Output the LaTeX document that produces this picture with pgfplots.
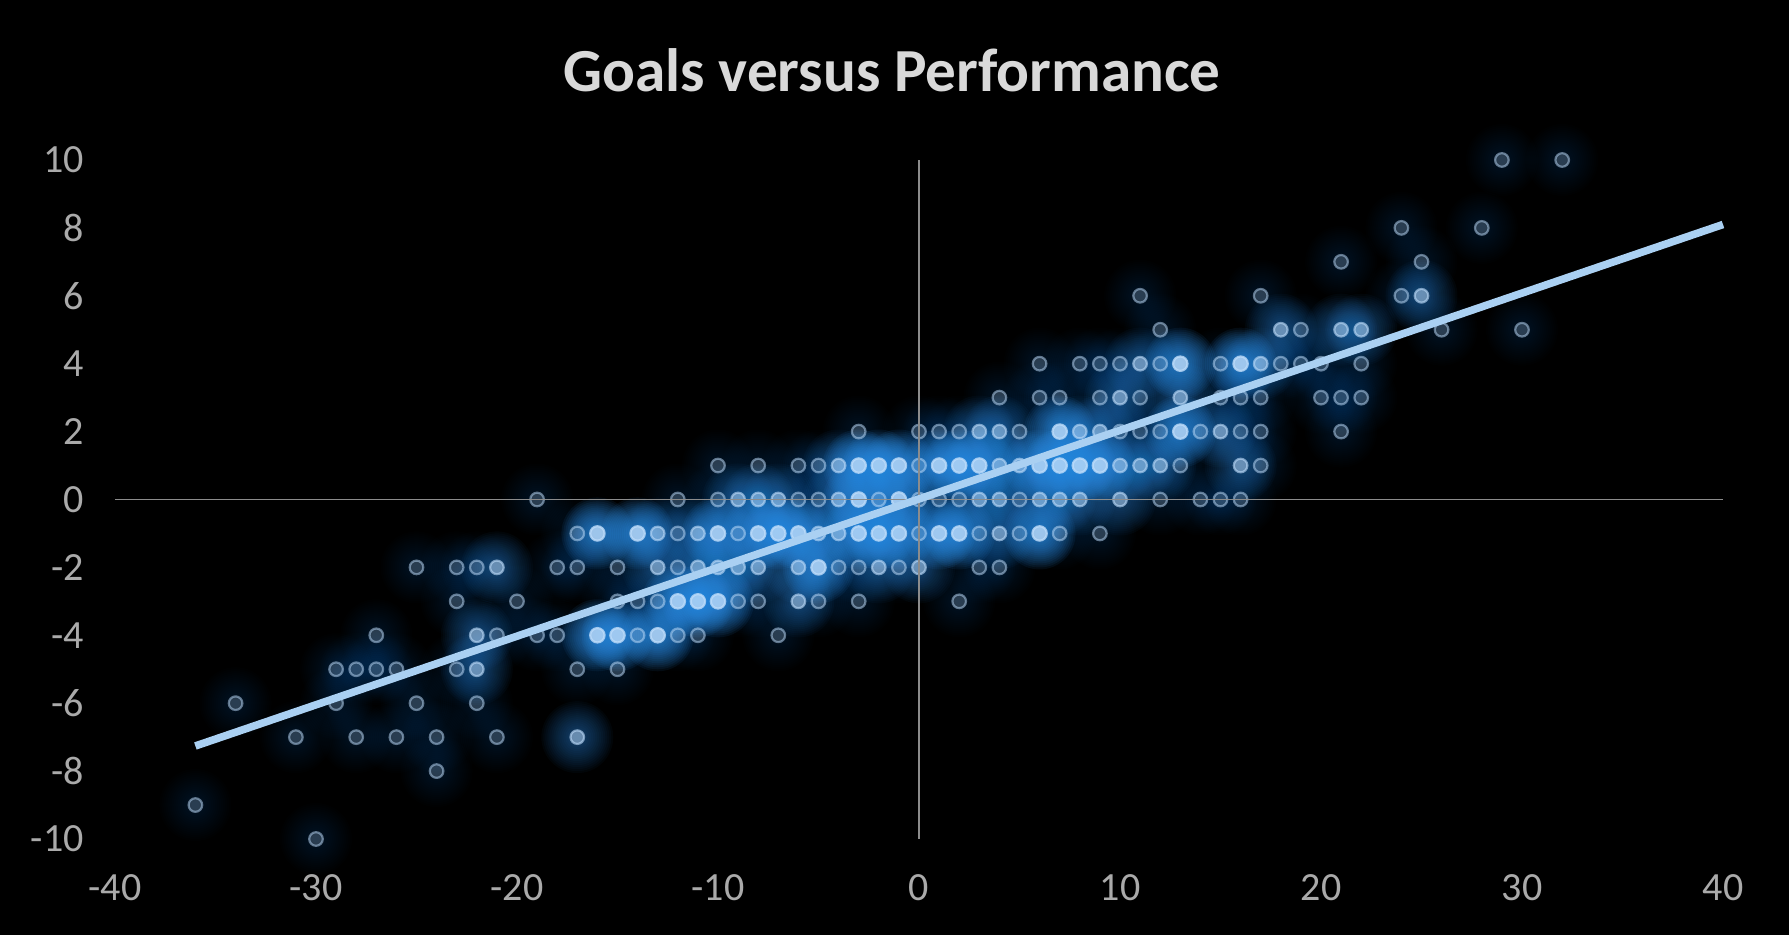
\documentclass[border=0pt]{standalone}
\usepackage{fontspec}
\setmainfont{Carlito}
\usepackage{pgfplots}
\usepackage{pgfplotstable}
\pgfplotsset{compat=1.18}

\definecolor{glowc}{RGB}{45,145,235}
\definecolor{dotc}{RGB}{190,220,250}
\definecolor{trendc}{RGB}{170,208,242}
\definecolor{tickc}{RGB}{170,170,170}
\definecolor{titlec}{RGB}{217,217,217}
\definecolor{zeroc}{RGB}{140,140,140}

% soft glow: nested discs of low opacity, one mark for each point weight
\newcommand{\glowdiscs}[1]{%
  \pgfsetfillcolor{glowc}%
  \pgfsetfillopacity{#1}%
  \foreach \r in {18,17,...,2}{%
    \pgfpathcircle{\pgfpointorigin}{\r pt}\pgfusepathqfill}}
\pgfdeclareplotmark{glowa}{\glowdiscs{.013}}
\pgfdeclareplotmark{glowb}{\glowdiscs{.035}}
\pgfdeclareplotmark{glowc}{\glowdiscs{.08}}

% points seen once
\pgfplotstableread{
x y
29 10
32 10
24 8
28 8
21 7
25 7
11 6
17 6
24 6
12 5
19 5
26 5
30 5
6 4
8 4
9 4
10 4
12 4
15 4
18 4
19 4
20 4
22 4
4 3
6 3
7 3
9 3
11 3
15 3
16 3
17 3
20 3
21 3
22 3
-3 2
0 2
1 2
2 2
5 2
10 2
11 2
12 2
14 2
16 2
17 2
21 2
-10 1
-8 1
-6 1
-5 1
0 1
13 1
17 1
-19 0
-12 0
-10 0
-6 0
-5 0
-2 0
0 0
1 0
2 0
5 0
12 0
14 0
15 0
16 0
-17 -1
-12 -1
-9 -1
0 -1
3 -1
5 -1
7 -1
9 -1
-25 -2
-23 -2
-22 -2
-18 -2
-17 -2
-15 -2
-12 -2
-4 -2
-3 -2
-1 -2
3 -2
4 -2
-23 -3
-20 -3
-15 -3
-14 -3
-13 -3
-9 -3
-8 -3
-5 -3
-3 -3
2 -3
-27 -4
-21 -4
-19 -4
-18 -4
-14 -4
-12 -4
-11 -4
-7 -4
-29 -5
-28 -5
-27 -5
-26 -5
-23 -5
-17 -5
-15 -5
-34 -6
-29 -6
-25 -6
-22 -6
-31 -7
-28 -7
-26 -7
-24 -7
-21 -7
-24 -8
-36 -9
-30 -10
}\ptsa

% points seen about twice
\pgfplotstableread{
x y
25 6
18 5
21 5
22 5
11 4
17 4
10 3
13 3
3 2
4 2
8 2
9 2
15 2
-4 1
4 1
5 1
10 1
11 1
12 1
16 1
-9 0
-8 0
-7 0
-4 0
3 0
4 0
6 0
7 0
8 0
10 0
-13 -1
-11 -1
-5 -1
-4 -1
4 -1
-21 -2
-13 -2
-11 -2
-10 -2
-9 -2
-8 -2
-6 -2
-2 -2
0 -2
-6 -3
-22 -4
-22 -5
-17 -7
}\ptsb

% brightest points
\pgfplotstableread{
x y
13 4
16 4
7 2
13 2
-3 1
-2 1
-1 1
1 1
2 1
3 1
6 1
7 1
8 1
9 1
-3 0
-1 0
-16 -1
-14 -1
-10 -1
-8 -1
-7 -1
-6 -1
-3 -1
-2 -1
-1 -1
1 -1
2 -1
6 -1
-5 -2
-12 -3
-11 -3
-10 -3
-16 -4
-15 -4
-13 -4
}\ptsc

\begin{document}
\begin{tikzpicture}
\path[use as bounding box, fill=black] (0,0) rectangle (894.5pt,467.5pt);
\begin{axis}[
    at={(57.5pt,48pt)},
    anchor=south west,
    scale only axis,
    width=804pt,
    height=339.5pt,
    xmin=-40, xmax=40,
    ymin=-10, ymax=10,
    clip=false,
    clip marker paths=true,
    axis line style={draw=none},
    axis x line=bottom,
    axis y line=left,
    xtick={-40,-30,...,40},
    ytick={-10,-8,...,10},
    tick style={draw=none},
    ticklabel style={text=tickc, font=\fontsize{20}{24}\selectfont},
    /pgf/number format/assume math mode=true,
    xticklabel style={yshift=-12pt},
    yticklabel style={xshift=-10pt},
]
% glow
\addplot[only marks, mark=glowa] table {\ptsa};
\addplot[only marks, mark=glowb] table {\ptsb};
\addplot[only marks, mark=glowc] table {\ptsc};
% dots
\addplot[only marks, mark=*, mark size=3.4pt, mark options={fill=dotc, fill opacity=.22, draw=dotc, draw opacity=.5, line width=1.1pt}] table {\ptsa};
\addplot[only marks, mark=*, mark size=3.4pt, mark options={fill=dotc, fill opacity=.5, draw=dotc, draw opacity=.6, line width=1.1pt}] table {\ptsb};
\addplot[only marks, mark=*, mark size=3.6pt, mark options={fill=dotc, fill opacity=.8, draw=dotc, draw opacity=.8, line width=1.1pt}] table {\ptsc};
% zero lines and trend go over the marks
\addplot[zeroc, line width=.6pt] coordinates {(-40,0) (40,0)};
\addplot[zeroc, line width=.6pt] coordinates {(0,-10) (0,10)};
\addplot[trendc, line width=3.8pt] coordinates {(-36,-7.26) (40,8.1)};
\end{axis}
\node[text=titlec, font=\bfseries\fontsize{30.6}{36}\selectfont] at (446pt,432.5pt) {Goals versus Performance};
\end{tikzpicture}
\end{document}
